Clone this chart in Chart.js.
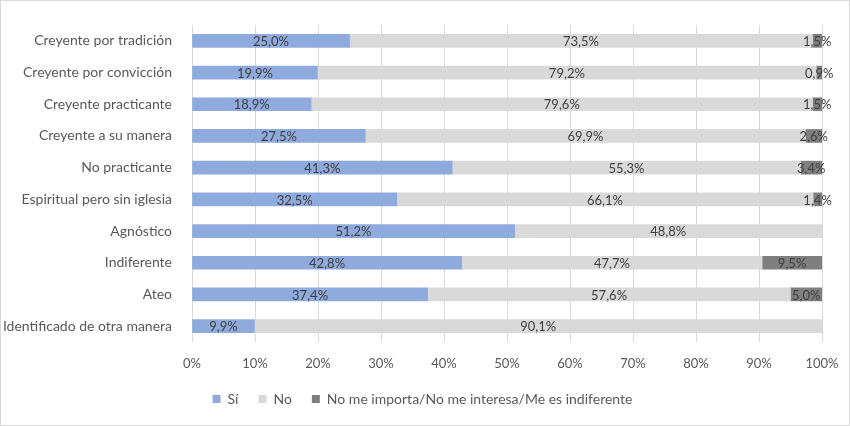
<!DOCTYPE html>
<html lang="es">
  <head>
    <meta charset="utf-8">
    <title>Creencia religiosa</title>
    <style>
      body { margin: 0; background: #fff; }
      #wrap { position: relative; width: 850px; height: 426px; }
      #frame { position: absolute; left: 0; top: 0; width: 850px; height: 426px; box-sizing: border-box; border: 1px solid #d9d9d9; pointer-events: none; }
    </style>
  </head>
  <body>
    <div id="wrap">
      <canvas id="bar-chart" width="850" height="426"></canvas>
      <div id="frame"></div>
    </div>

    <script src="https://cdn.jsdelivr.net/npm/chart.js@4/dist/chart.umd.min.js"></script>
    <script>
    const categories = [
      'Creyente por tradición', 'Creyente por convicción', 'Creyente practicante',
      'Creyente a su manera', 'No practicante', 'Espiritual pero sin iglesia',
      'Agnóstico', 'Indiferente', 'Ateo', 'Identificado de otra manera'
    ];
    const si = [25.0, 19.9, 18.9, 27.5, 41.3, 32.5, 51.2, 42.8, 37.4, 9.9];
    const no = [73.5, 79.2, 79.6, 69.9, 55.3, 66.1, 48.8, 47.7, 57.6, 90.1];
    const indiferente = [1.5, 0.9, 1.5, 2.6, 3.4, 1.4, 0, 9.5, 5.0, 0];
    const xTicks = [0, 10, 20, 30, 40, 50, 60, 70, 80, 90, 100];

    const font = "Lato, 'Open Sans', sans-serif";
    const textColor = '#595959';

    // etiquetas de valor en el centro de cada segmento
    const valueLabels = {
      id: 'valueLabels',
      afterDatasetsDraw(chart) {
        const ctx = chart.ctx;
        ctx.save();
        ctx.font = '13px ' + font;
        ctx.fillStyle = '#404040';
        ctx.textAlign = 'center';
        ctx.textBaseline = 'middle';
        chart.data.datasets.forEach((ds, i) => {
          chart.getDatasetMeta(i).data.forEach((bar, j) => {
            const v = ds.data[j];
            if (!v) return;
            const p = bar.getCenterPoint();
            ctx.fillText(v.toFixed(1).replace('.', ',') + '%', p.x, p.y + 1);
          });
        });
        ctx.restore();
      }
    };

    // la leyenda va centrada en la página, no en el área del gráfico
    const legendShift = {
      id: 'legendShift',
      afterLayout(chart) { chart.legend.left = 23; }
    };

    new Chart(document.getElementById('bar-chart'), {
      type: 'bar',
      data: {
        labels: categories,
        datasets: [
          { label: 'Sí', data: si, backgroundColor: '#8faadc' },
          { label: 'No', data: no, backgroundColor: '#d9d9d9' },
          { label: 'No me importa/No me interesa/Me es indiferente', data: indiferente, backgroundColor: '#7f7f7f' }
        ]
      },
      options: {
        indexAxis: 'y',
        responsive: false,
        animation: false,
        datasets: { bar: { barThickness: 13 } },
        layout: { padding: { top: 25, right: 28, bottom: 10, left: 0 } },
        scales: {
          x: {
            stacked: true,
            min: 0,
            max: 100,
            afterBuildTicks: s => { s.ticks = xTicks.map(v => ({ value: v })); },
            afterFit: s => { s.height = 30; },
            grid: { color: '#d9d9d9', drawTicks: true, tickLength: 5, tickColor: 'rgba(0,0,0,0)' },
            border: { display: false },
            ticks: { color: textColor, font: { family: font, size: 13 }, padding: 9, callback: v => v + '%' }
          },
          y: {
            stacked: true,
            grid: { display: false },
            border: { display: false },
            afterFit: s => { s.width = 192; },
            ticks: { color: textColor, font: { family: font, size: 14 }, padding: 12 }
          }
        },
        plugins: {
          legend: {
            position: 'bottom',
            labels: { color: textColor, font: { family: font, size: 14 }, boxWidth: 8, boxHeight: 8, padding: 20 }
          },
          tooltip: { enabled: false }
        }
      },
      plugins: [valueLabels, legendShift]
    });
    </script>
  </body>
</html>
